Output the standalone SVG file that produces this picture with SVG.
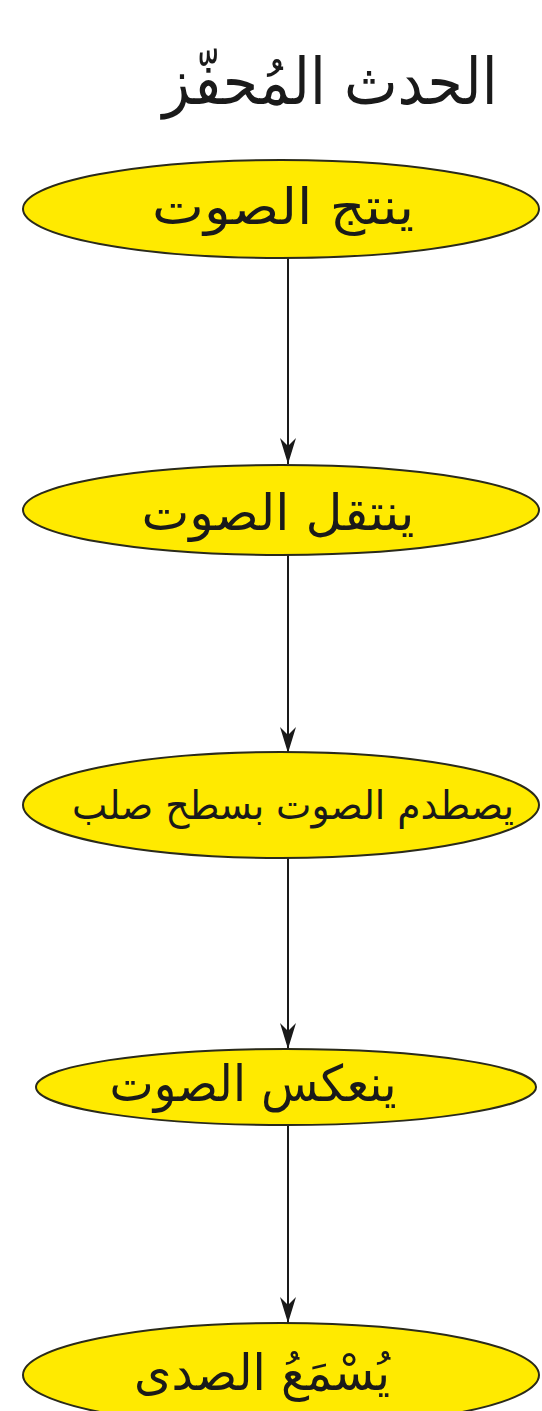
<svg xmlns="http://www.w3.org/2000/svg" width="542" height="1411" viewBox="0 0 542 1411">
  <defs>
    <style>
      .node { fill: #FFEA00; stroke: #2a2a1a; stroke-width: 2; }
      .label { font-family: "DejaVu Sans", sans-serif; font-size: 50px; fill: #1a1a1a; text-anchor: middle; }
      .long { font-size: 40px; }
      .title { font-family: "DejaVu Sans", sans-serif; font-size: 64px; fill: #1a1a1a; text-anchor: middle; }
      .edge { stroke: #1a1a1a; stroke-width: 2; fill: none; }
    </style>
    <marker id="arrow" viewBox="0 0 26 16" refX="26" refY="8" markerWidth="26" markerHeight="16" markerUnits="userSpaceOnUse" orient="auto">
      <path d="M0,0 L8,8 L0,16 L26,8 Z" fill="#1a1a1a"/>
    </marker>
  </defs>
  <rect width="542" height="1411" fill="#ffffff"/>
  <g id="title">
    <text class="title" x="330" y="104" textLength="335" lengthAdjust="spacingAndGlyphs">الحدث المُحفّز</text>
  </g>
  <g id="connectors">
    <line class="edge" x1="288" y1="258" x2="288" y2="464" marker-end="url(#arrow)"/>
    <line class="edge" x1="288" y1="555" x2="288" y2="753" marker-end="url(#arrow)"/>
    <line class="edge" x1="288" y1="858" x2="288" y2="1049" marker-end="url(#arrow)"/>
    <line class="edge" x1="288" y1="1125" x2="288" y2="1323" marker-end="url(#arrow)"/>
  </g>
  <g id="node1">
    <ellipse class="node" cx="281" cy="209" rx="258" ry="49"/>
    <text class="label" x="283" y="224" textLength="262" lengthAdjust="spacingAndGlyphs">ينتج الصوت</text>
  </g>
  <g id="node2">
    <ellipse class="node" cx="281" cy="510" rx="258" ry="45"/>
    <text class="label" x="278" y="530" textLength="273" lengthAdjust="spacingAndGlyphs">ينتقل الصوت</text>
  </g>
  <g id="node3">
    <ellipse class="node" cx="281" cy="805" rx="258" ry="53"/>
    <text class="label long" x="293" y="819" textLength="442" lengthAdjust="spacingAndGlyphs">يصطدم الصوت بسطح صلب</text>
  </g>
  <g id="node4">
    <ellipse class="node" cx="286" cy="1087" rx="250" ry="38"/>
    <text class="label" x="253" y="1101" textLength="287" lengthAdjust="spacingAndGlyphs">ينعكس الصوت</text>
  </g>
  <g id="node5">
    <ellipse class="node" cx="281" cy="1375" rx="258" ry="52"/>
    <text class="label" x="262" y="1390" textLength="256" lengthAdjust="spacingAndGlyphs">يُسْمَعُ الصدى</text>
  </g>
</svg>
